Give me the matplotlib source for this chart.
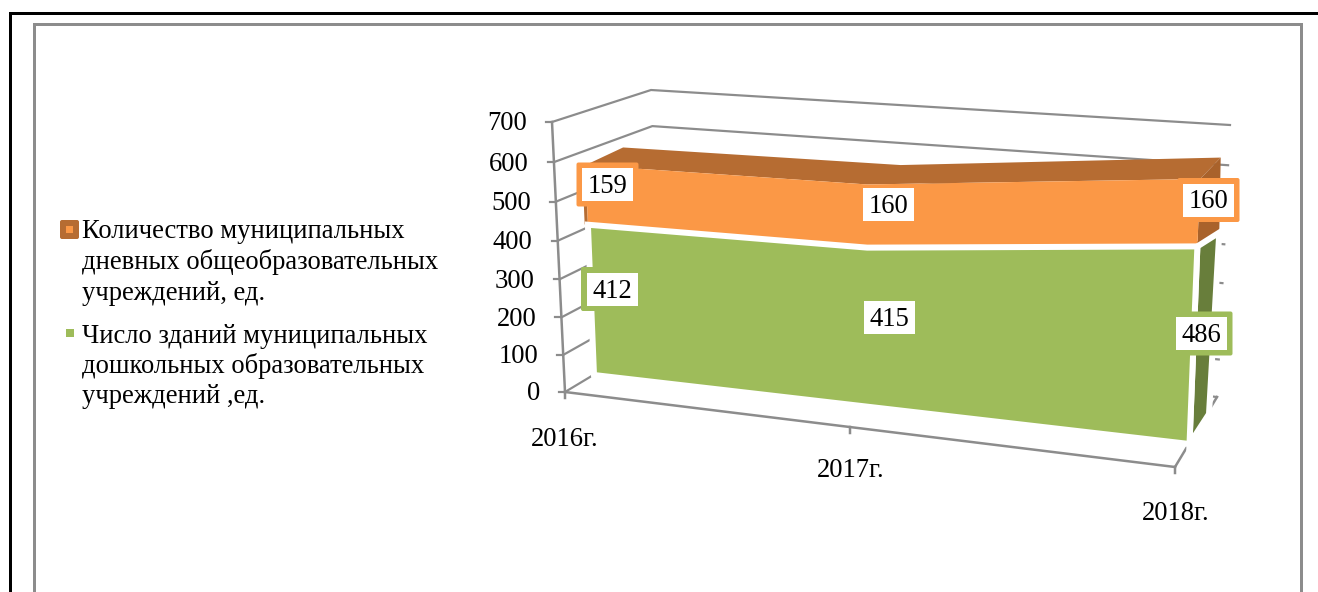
import numpy as np
import matplotlib
matplotlib.use('Agg')
import matplotlib.pyplot as plt
from matplotlib.patches import FancyBboxPatch, Rectangle
from matplotlib.transforms import Transform

plt.rcParams['font.family'] = ['Liberation Serif', 'DejaVu Serif']

# data
years = ['2016г.', '2017г.', '2018г.']
schools = [159, 160, 160]
kindergartens = [412, 415, 486]
value_ticks = [0, 100, 200, 300, 400, 500, 600, 700]
legend_schools = ['Количество муниципальных', 'дневных общеобразовательных', 'учреждений, ед.']
legend_kinder = ['Число зданий муниципальных', 'дошкольных образовательных', 'учреждений ,ед.']

ORANGE = '#FB9846'
ORANGE_TOP = '#B66C32'
ORANGE_SIDE = '#A9622B'
GREEN = '#9EBC5A'
GREEN_SIDE = '#687E3B'
GRID = '#8C8C8C'
FS = 19.2
px = 72 / 100


class Plane(Transform):
    """Perspective plane: (category, value) to picture pixels, fitted on its 4 corners."""
    input_dims = 2
    output_dims = 2

    def __init__(self, left_low, left_high, right_low, right_high):
        super().__init__()
        src = [(0, 0), (0, 700), (2, 0), (2, 700)]
        dst = [left_low, left_high, right_low, right_high]
        A, b = [], []
        for (c, v), (x, y) in zip(src, dst):
            A.append([c, v, 1, 0, 0, 0, -c * x, -v * x])
            A.append([0, 0, 0, c, v, 1, -c * y, -v * y])
            b += [x, y]
        self.h = np.append(np.linalg.solve(np.array(A, float), np.array(b, float)), 1).reshape(3, 3)

    def transform_non_affine(self, values):
        pts = np.column_stack([values, np.ones(len(values))]) @ self.h.T
        return pts[:, :2] / pts[:, 2:]

    def pt(self, c, v):
        return self.transform_non_affine(np.array([[c, v]], float))[0]


# box walls of the chart
box_front = Plane((565, 392), (552, 122), (1175, 467), (1192, 177))
box_back = Plane((660, 335), (651, 90), (1217, 397), (1230, 125))
# faces of the stacked areas
face_front = Plane((594, 375), (583.5, 116), (1189.5, 444), (1201, 156))
face_back = Plane((632, 357), (621, 98), (1206, 415), (1222, 135))
green_back = Plane((632, 357), (621, 98), (1209, 414), (1224, 149))

fig = plt.figure(figsize=(13.18, 5.92), dpi=100)
ax = fig.add_axes([0, 0, 1, 1])
ax.set_xlim(0, 1318)
ax.set_ylim(592, 0)
ax.axis('off')

# page frames
ax.plot([10, 10, 1318], [592, 13, 13], color='black', lw=3 * px, solid_joinstyle='miter', zorder=1)
ax.plot([34, 34, 1301, 1301], [590, 24, 24, 590], color=GRID, lw=3 * px, solid_joinstyle='miter', zorder=1)

# gridlines on the walls, value axis, category axis
for v in value_ticks:
    p0 = box_front.pt(0, v)
    p1 = box_back.pt(0, v)
    p2 = box_back.pt(2, v)
    ax.plot([p0[0], p1[0], p2[0]], [p0[1], p1[1], p2[1]], color=GRID, lw=2.2 * px, zorder=2)
    ax.plot([p0[0] - 6, p0[0]], [p0[1], p0[1]], color=GRID, lw=2.2 * px, zorder=2)
    ax.text(p0[0] - 25, p0[1] + 2, str(v), ha='right', va='center', fontsize=FS, zorder=8)

# the middle category sits a little left of the plane's own midpoint in the reference
cat = np.array([0, 0.975, 2])
front_tf = box_front + ax.transData
ax.plot([0, 0], [0, 700], color=GRID, lw=2.5 * px, transform=front_tf, zorder=2)
ax.plot([0, 2], [0, 0], color=GRID, lw=2.5 * px, transform=front_tf, zorder=2)
p0, p1 = box_front.pt(2, 0), box_back.pt(2, 0)
ax.plot([p0[0], p1[0]], [p0[1], p1[1]], color=GRID, lw=2.5 * px, zorder=2)
label_offset = [(0, 47), (1, 43), (1, 47)]
for c, name, off in zip(cat, years, label_offset):
    p = box_front.pt(c, 0)
    ax.plot([p[0], p[0]], [p[1], p[1] + 6], color=GRID, lw=2.5 * px, zorder=2)
    ax.text(p[0] + off[0], p[1] + off[1], name, ha='center', va='center', fontsize=FS, zorder=8)

# stacked areas
lower = np.array(kindergartens, float)
upper = lower + np.array(schools, float)
zero = np.zeros(len(cat))


def outline(plane, cs, vs):
    return np.array([plane.pt(c, v) for c, v in zip(cs, vs)])


top_face = np.vstack([outline(face_front, cat, upper), outline(face_back, cat, upper)[::-1]])
ax.fill(top_face[:, 0], top_face[:, 1], color=ORANGE_TOP, lw=0, zorder=3)
sliver = outline(face_front, [-0.012, -0.012, 0, 0], [lower[0], upper[0], upper[0], lower[0]])
ax.fill(sliver[:, 0], sliver[:, 1], color=ORANGE_TOP, lw=0, zorder=3)
side = np.vstack([outline(face_front, [2, 2], [lower[2], upper[2]]), face_back.pt(2, upper[2]), green_back.pt(2, lower[2])])
ax.fill(side[:, 0], side[:, 1], color=ORANGE_SIDE, lw=0, zorder=3)
ax.fill(np.r_[cat, cat[::-1]], np.r_[upper, lower[::-1]], color=ORANGE, lw=0,
        transform=face_front + ax.transData, zorder=4)

side = np.vstack([outline(face_front, [2, 2], [0, lower[2]]), outline(green_back, [2, 2], [lower[2], 0])])
ax.fill(side[:, 0], side[:, 1], facecolor=GREEN_SIDE, edgecolor='white', lw=6 * px, zorder=5)
ax.fill(np.r_[cat, cat[::-1]], np.r_[lower, zero], facecolor=GREEN, edgecolor='white', lw=6 * px,
        joinstyle='miter', transform=face_front + ax.transData, zorder=6)


# data labels
def value_label(xc, yc, text, frame=None):
    w, h = 51, 33
    if frame:
        ax.add_patch(FancyBboxPatch((xc - w / 2 - 3, yc - h / 2 - 3), w + 6, h + 6,
                                    boxstyle='round,pad=2.5,rounding_size=2', fc=frame, ec='none', zorder=9))
    ax.add_patch(Rectangle((xc - w / 2, yc - h / 2), w, h, fc='white', ec='none', zorder=10))
    ax.text(xc, yc + 2, text, ha='center', va='center', fontsize=FS, zorder=11)


value_label(607.5, 184.5, str(schools[0]), ORANGE)
value_label(888.5, 204.5, str(schools[1]))
value_label(1208.5, 200, str(schools[2]), ORANGE)
value_label(612, 289, str(kindergartens[0]), GREEN)
value_label(889, 317, str(kindergartens[1]))
value_label(1201.5, 333.5, str(kindergartens[2]), GREEN)

# legend
ax.add_patch(FancyBboxPatch((61, 221), 17, 17, boxstyle='round,pad=1,rounding_size=2', fc=ORANGE_TOP, ec='none', zorder=5))
ax.add_patch(Rectangle((66, 226), 7, 7, fc=ORANGE, ec='none', zorder=6))
ax.add_patch(Rectangle((66, 329), 7.5, 8, fc=GREEN, ec='none', zorder=6))
for line, y in zip(legend_schools, [238, 269, 300]):
    ax.text(82, y, line, ha='left', va='baseline', fontsize=FS, zorder=8)
for line, y in zip(legend_kinder, [343, 373, 403]):
    ax.text(82, y, line, ha='left', va='baseline', fontsize=FS, zorder=8)

fig.savefig('out.png', dpi=100)
